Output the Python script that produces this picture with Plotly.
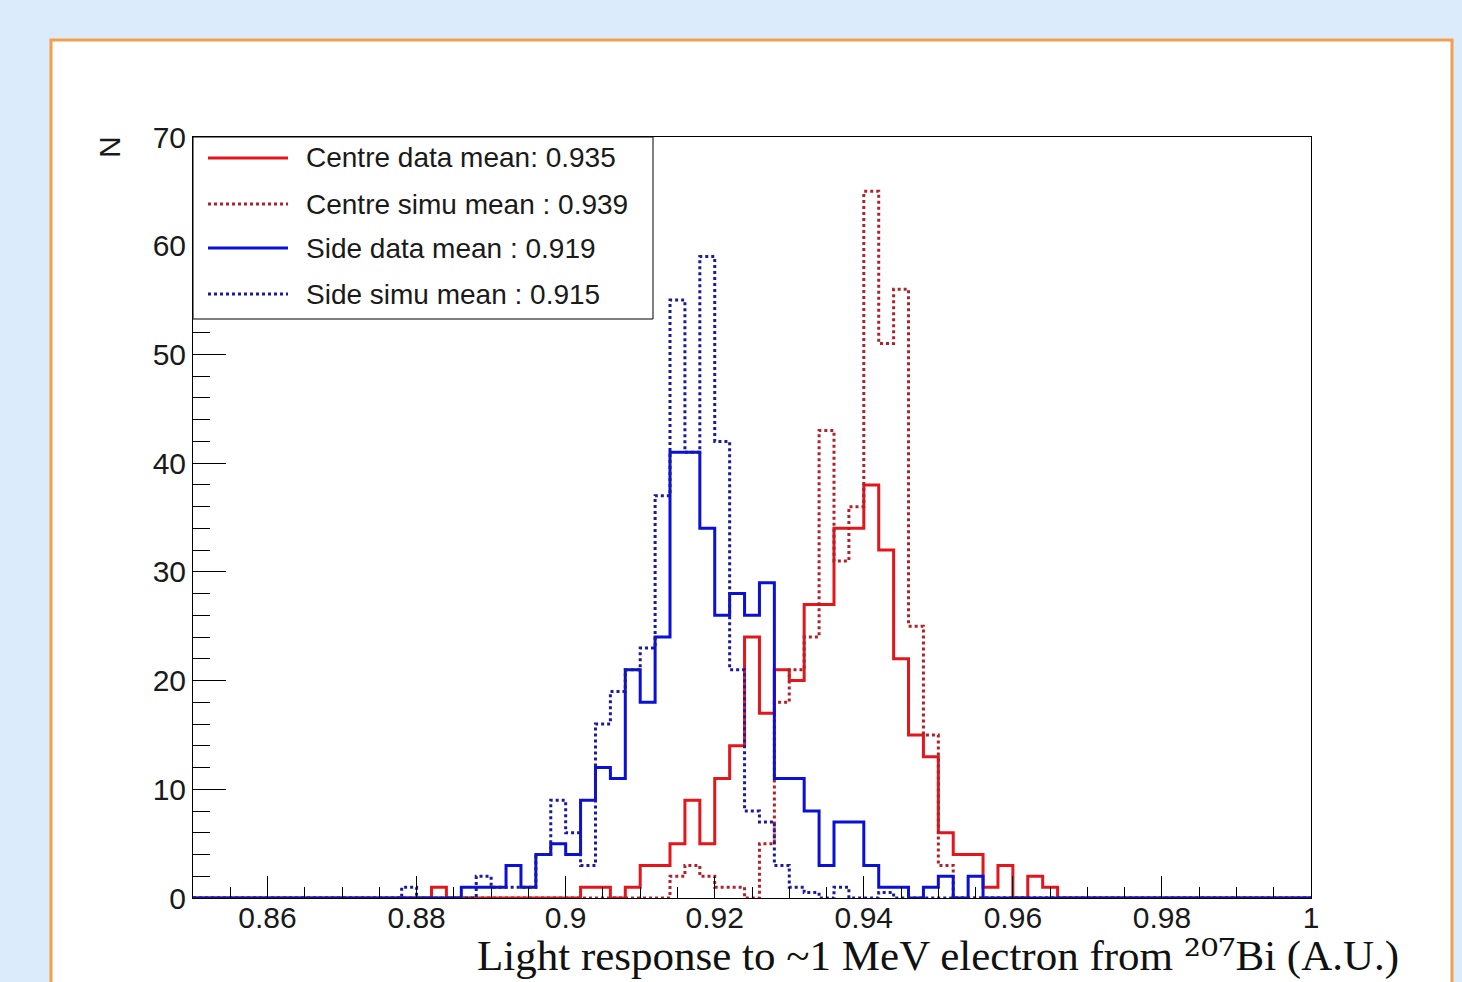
import plotly.graph_objects as go

# Histogram binning (light response, A.U.)
BIN_LO = 0.85
BIN_WIDTH = 0.002
N_BINS = 75

# Bin contents, 75 bins from 0.85 to 1.0
centre_data = [
    0, 0, 0, 0, 0, 0, 0, 0, 0, 0,
    0, 0, 0, 0, 0, 0, 1, 0, 0, 0,
    0, 0, 0, 0, 0, 0, 1, 1, 0, 1,
    3, 3, 5, 9, 5, 11, 14, 24, 17, 21,
    20, 27, 27, 34, 34, 38, 32, 22, 15, 13,
    6, 4, 4, 1, 3, 0, 2, 1, 0, 0,
    0, 0, 0, 0, 0, 0, 0, 0, 0, 0,
    0, 0, 0, 0, 0,
]
centre_simu = [
    0, 0, 0, 0, 0, 0, 0, 0, 0, 0,
    0, 0, 0, 0, 0, 0, 0, 0, 0, 0,
    0, 0, 0, 0, 0, 0, 0, 0, 0, 0,
    0, 0, 2, 3, 2, 1, 1, 0, 5, 18,
    21, 24, 43, 31, 36, 65, 51, 56, 25, 15,
    3, 0, 0, 0, 0, 0, 0, 0, 0, 0,
    0, 0, 0, 0, 0, 0, 0, 0, 0, 0,
    0, 0, 0, 0, 0,
]
side_data = [
    0, 0, 0, 0, 0, 0, 0, 0, 0, 0,
    0, 0, 0, 0, 0, 0, 0, 0, 1, 1,
    1, 3, 1, 4, 5, 4, 9, 12, 11, 21,
    18, 24, 41, 41, 34, 26, 28, 26, 29, 11,
    11, 8, 3, 7, 7, 3, 1, 1, 0, 1,
    2, 0, 2, 0, 0, 0, 0, 0, 0, 0,
    0, 0, 0, 0, 0, 0, 0, 0, 0, 0,
    0, 0, 0, 0, 0,
]
side_simu = [
    0, 0, 0, 0, 0, 0, 0, 0, 0, 0,
    0, 0, 0, 0, 1, 0, 0, 0, 0, 2,
    1, 1, 1, 4, 9, 6, 3, 16, 19, 21,
    23, 37, 55, 41, 59, 42, 21, 8, 7, 3,
    1, 0.5, 0, 1, 0, 0, 0.5, 0, 0, 0,
    0, 0, 0, 0, 0, 0, 0, 0, 0, 0,
    0, 0, 0, 0, 0, 0, 0, 0, 0, 0,
    0, 0, 0, 0, 0,
]

series_names = [
    "Centre data mean: 0.935",
    "Centre simu mean : 0.939",
    "Side data mean : 0.919",
    "Side simu mean : 0.915",
]
series_values = [centre_data, centre_simu, side_data, side_simu]
series_colors = ["#e3161c", "#b3202a", "#0a10d6", "#1a1aa0"]
series_dash = ["solid", "3px,3px", "solid", "3px,3px"]

x_tick_vals = [0.86, 0.88, 0.90, 0.92, 0.94, 0.96, 0.98, 1.00]
x_tick_text = ["0.86", "0.88", "0.9", "0.92", "0.94", "0.96", "0.98", "1"]
y_tick_vals = [0, 10, 20, 30, 40, 50, 60, 70]

x_title = ("Light response to ~1 MeV electron from "
           "<span style='font-family:DejaVu Serif'>\u00b2\u2070\u2077</span>Bi (A.U.)")
y_title = "N"

edges = [BIN_LO + i * BIN_WIDTH for i in range(N_BINS + 1)]

fig = go.Figure()
for name, vals, col, dash in zip(series_names, series_values, series_colors, series_dash):
    fig.add_trace(go.Scatter(
        x=edges,
        y=list(vals) + [vals[-1]],
        mode="lines",
        line=dict(shape="hv", color=col, width=3, dash=dash),
        name=name,
        hoverinfo="skip",
    ))

SANS = "Liberation Sans, Arial, sans-serif"

fig.update_layout(
    width=1462,
    height=982,
    margin=dict(l=193, r=151, t=137, b=84),
    paper_bgcolor="#dcebfb",
    plot_bgcolor="white",
    showlegend=False,
    font=dict(family=SANS, color="#1a1a1a"),
)

fig.update_xaxes(
    range=[0.85, 1.0],
    tickmode="array",
    tickvals=x_tick_vals,
    ticktext=x_tick_text,
    ticks="inside",
    ticklen=22,
    tickwidth=1,
    tickcolor="black",
    minor=dict(dtick=0.005, tick0=0.85, ticks="inside", ticklen=11, tickcolor="black", tickwidth=1),
    showline=True,
    linecolor="black",
    linewidth=1,
    mirror=True,
    showgrid=False,
    zeroline=False,
    ticklabelstandoff=-7,
    tickfont=dict(size=30, family=SANS, color="#1a1a1a"),
)
fig.update_yaxes(
    range=[0, 70],
    tickmode="array",
    tickvals=y_tick_vals,
    ticks="inside",
    ticklen=33,
    tickwidth=1,
    tickcolor="black",
    minor=dict(dtick=2, tick0=0, ticks="inside", ticklen=17, tickcolor="black", tickwidth=1),
    showline=True,
    linecolor="black",
    linewidth=1,
    mirror=True,
    showgrid=False,
    zeroline=False,
    tickfont=dict(size=30, family=SANS, color="#1a1a1a"),
)

# pixel helpers for the decorative frame and legend (plot area 193..1311 x 137..898)
PX0, PX1, PY0, PY1 = 193.0, 1311.0, 137.0, 898.0


def px(x):
    return (x - PX0) / (PX1 - PX0)


def py(y):
    return (PY1 - y) / (PY1 - PY0)


shapes = [
    # white slide panel with orange border
    dict(type="rect", xref="paper", yref="paper", layer="below",
         x0=px(51), x1=px(1452), y0=py(1010), y1=py(40),
         fillcolor="white", line=dict(color="#f0a04e", width=3)),
    # legend box
    dict(type="rect", xref="paper", yref="paper", layer="above",
         x0=px(193), x1=px(653), y0=py(319), y1=py(137),
         fillcolor="white", line=dict(color="black", width=1)),
]
annotations = []
legend_rows = [158, 204, 248, 294]
for name, col, dash, ry in zip(series_names, series_colors, series_dash, legend_rows):
    shapes.append(dict(type="line", xref="paper", yref="paper", layer="above",
                       x0=px(208), x1=px(288), y0=py(ry), y1=py(ry),
                       line=dict(color=col, width=3, dash=dash)))
    annotations.append(dict(xref="paper", yref="paper", x=px(304), y=py(ry),
                            xanchor="left", yanchor="middle", showarrow=False,
                            text=name, font=dict(size=28, family=SANS, color="#1a1a1a")))

annotations.append(dict(xref="paper", yref="paper", x=px(109), y=py(147),
                        xanchor="center", yanchor="middle", showarrow=False,
                        text=y_title, textangle=-90,
                        font=dict(size=30, family=SANS, color="#1a1a1a")))
annotations.append(dict(xref="paper", yref="paper", x=px(1401), y=py(982),
                        xanchor="right", yanchor="bottom", showarrow=False,
                        text=x_title,
                        font=dict(size=43, family="Liberation Serif, serif", color="#111111")))

fig.update_layout(shapes=shapes, annotations=annotations)

fig.write_html("out.html")
